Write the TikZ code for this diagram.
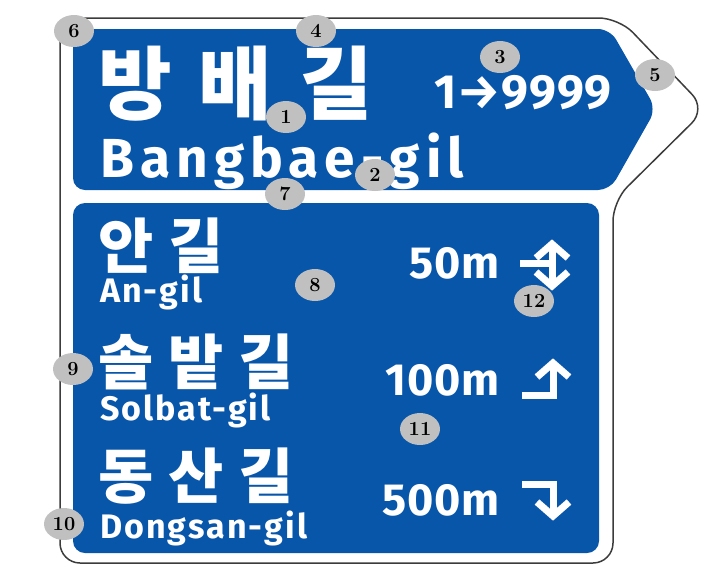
\documentclass[tikz,border=0pt]{standalone}
\usepackage{fontspec}
\newfontfamily\kr{Noto Sans CJK KR}
\newfontfamily\lat{Fira Sans}[LetterSpace=6]
\newfontfamily\latwide{Fira Sans}[LetterSpace=11]
\newfontfamily\num{Fira Sans}[LetterSpace=2]
\definecolor{signblue}{RGB}{8,86,170}
\definecolor{badgegray}{RGB}{192,192,192}
\definecolor{edgegray}{RGB}{60,60,60}
\tikzset{
  badge/.style={ellipse, fill=badgegray, minimum width=40pt, minimum height=32pt, inner sep=0pt, font=\fontsize{20}{20}\selectfont\bfseries},
  kortext/.style={anchor=base west, inner sep=0pt, text=white},
  lattext/.style={anchor=base west, inner sep=0pt, text=white},
  dist/.style={anchor=base east, inner sep=0pt, text=white, font=\num\bfseries\fontsize{45}{45}\selectfont},
  arrowline/.style={draw=white, line width=7pt, line join=miter, line cap=butt},
}
\usetikzlibrary{shapes.geometric}
\begin{document}
\begin{tikzpicture}[x=1pt,y=-1pt]
\useasboundingbox (0,0) rectangle (712,582);
% outer sign border
\draw[edgegray, line width=1.5pt, fill=white, rounded corners=20pt]
  (60,18) -- (619,18) -- (706,109) -- (613,201) -- (613,563) -- (60,563) -- cycle;
% top panel
\fill[signblue, rounded corners=12pt]
  (73,29) -- (610,29) -- (656,109) -- (610,190) -- (73,190) -- cycle;
% bottom panel
\fill[signblue, rounded corners=12pt] (73,203) rectangle (599,553);

% top texts
\node[kortext, font=\kr\bfseries\fontsize{80}{80}\selectfont] (t1) at (98,113) {방\hspace{27pt}배\hspace{27pt}길};
\node[lattext, font=\latwide\bfseries\fontsize{55}{55}\selectfont] (t2) at (100,177) {Bangbae-gil};
\node[anchor=base east, inner sep=0pt, text=white, font=\num\bfseries\fontsize{48}{48}\selectfont] (t3) at (612,108) {1→9999};

% rows
\node[kortext, font=\kr\bfseries\fontsize{60}{60}\selectfont] (r1k) at (98,268) {안\hspace{15pt}길};
\node[lattext, font=\lat\bfseries\fontsize{34}{34}\selectfont] (r1e) at (100,302) {An-gil};
\node[dist] (r1d) at (500,278) {50m};

\node[kortext, font=\kr\bfseries\fontsize{60}{60}\selectfont] (r2k) at (98,384) {솔\hspace{15pt}밭\hspace{15pt}길};
\node[lattext, font=\lat\bfseries\fontsize{34}{34}\selectfont] (r2e) at (100,420) {Solbat-gil};
\node[dist] (r2d) at (500,395) {100m};

\node[kortext, font=\kr\bfseries\fontsize{60}{60}\selectfont] (r3k) at (98,498) {동\hspace{15pt}산\hspace{15pt}길};
\node[lattext, font=\lat\bfseries\fontsize{34}{34}\selectfont] (r3e) at (100,538) {Dongsan-gil};
\node[dist] (r3d) at (500,515) {500m};

% arrows
\draw[arrowline] (520,263) -- (552,263);
\draw[arrowline] (552,246) -- (552,284);
\draw[arrowline] (536,258) -- (552,244) -- (568,258);
\draw[arrowline] (536,272) -- (552,286) -- (568,272);

\draw[arrowline] (522,395) -- (553,395) -- (553,366);
\draw[arrowline] (537,377) -- (553,363) -- (569,377);

\draw[arrowline] (522,484) -- (553,484) -- (553,513);
\draw[arrowline] (537,502) -- (553,516) -- (569,502);

% badges
\node[badge] (b1) at (286,117) {1};
\node[badge] (b2) at (375,175) {2};
\node[badge] (b3) at (500,57) {3};
\node[badge] (b4) at (316,31) {4};
\node[badge] (b5) at (655,75) {5};
\node[badge] (b6) at (74,31) {6};
\node[badge] (b7) at (285,194) {7};
\node[badge] (b8) at (315,285) {8};
\node[badge] (b9) at (73,369) {9};
\node[badge] (b10) at (64,524) {10};
\node[badge] (b11) at (420,429) {11};
\node[badge] (b12) at (534,301) {12};
\end{tikzpicture}
\end{document}
